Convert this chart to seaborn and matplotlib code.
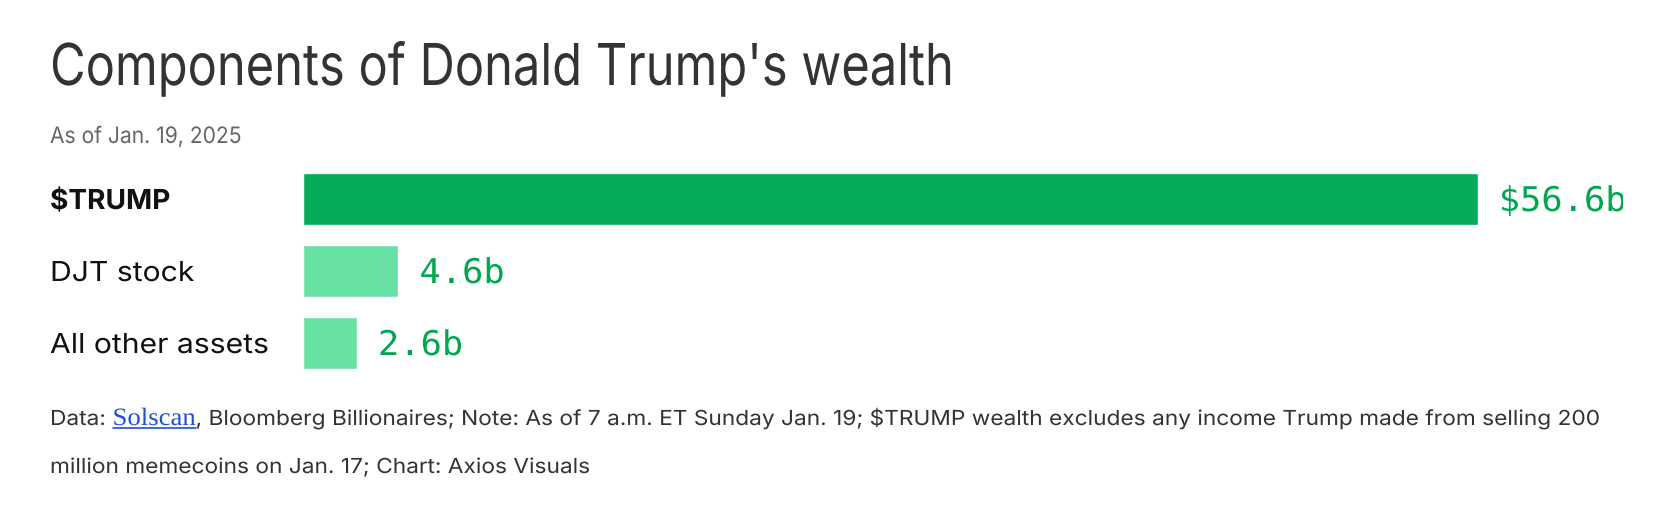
import matplotlib
matplotlib.use("Agg")
import matplotlib.pyplot as plt
import matplotlib.transforms as mtransforms
from matplotlib.lines import Line2D
from matplotlib.patheffects import AbstractPathEffect
import seaborn as sns
import pandas as pd

# ---- data ----
categories = ["$TRUMP", "DJT stock", "All other assets"]
values = [56.6, 4.6, 2.6]
value_labels = ["$56.6b", "4.6b", "2.6b"]
bar_colors = ["#03AB5A", "#68E2A4", "#68E2A4"]

title = "Components of Donald Trump's wealth"
subtitle = "As of Jan. 19, 2025"
footer_1a = "Data: "
footer_link = "Solscan"
footer_1b = (", Bloomberg Billionaires; Note: As of 7 a.m. ET Sunday Jan. 19; "
             "$TRUMP wealth excludes any income Trump made from selling 200")
footer_2 = "million memecoins on Jan. 17; Chart: Axios Visuals"


class HScale(AbstractPathEffect):
    """Scale glyph paths horizontally around the text origin."""

    def __init__(self, sx):
        super().__init__()
        self.sx = sx

    def draw_path(self, renderer, gc, tpath, affine, rgbFace=None):
        renderer.draw_path(gc, tpath,
                           mtransforms.Affine2D().scale(self.sx, 1) + affine,
                           rgbFace)


# ---- layout ----
W, H, DPI = 1660, 522, 100
sns.set_theme(style="white")
plt.rcParams['font.family'] = ['Inter', 'DejaVu Sans']

fig = plt.figure(figsize=(W / DPI, H / DPI), dpi=DPI)
fig.patch.set_facecolor("white")

ax_left, ax_right, ax_top, ax_bottom = 303, 1623, 163, 379
ax = fig.add_axes([ax_left / W, 1 - ax_bottom / H,
                   (ax_right - ax_left) / W, (ax_bottom - ax_top) / H])

df = pd.DataFrame({"category": categories, "value": values})
sns.barplot(data=df, x="value", y="category", hue="category",
            palette=bar_colors, legend=False, saturation=1,
            width=52 / 72, orient="h", ax=ax)
ax.set_xlim(0, 63.6)
ax.set_ylim(2.5, -0.5)
ax.set_xlabel("")
ax.set_ylabel("")
ax.set_xticks([])
for s in ax.spines.values():
    s.set_visible(False)
ax.set_facecolor("none")

ax.set_yticks(range(len(categories)))
ax.set_yticklabels(categories)
ax.tick_params(axis="y", length=0, pad=(ax_left - 50) * 72 / DPI)
for i, lbl in enumerate(ax.get_yticklabels()):
    lbl.set_ha("left")
    lbl.set_fontsize(19.8)
    lbl.set_color("#111111")
    if i == 0:
        lbl.set_fontweight("bold")
        lbl.set_path_effects([HScale(1.02)])
    else:
        lbl.set_path_effects([HScale(1.095)])

for i, (v, lab) in enumerate(zip(values, value_labels)):
    tr = mtransforms.offset_copy(ax.transData, fig=fig, x=21, y=-12, units="dots")
    t = ax.text(v, i, lab, transform=tr, ha="left", va="baseline",
                family="DejaVu Sans Mono", fontsize=24.5, color="#02A650",
                clip_on=True, parse_math=False)
    t.set_clip_box(ax.bbox)
    t.set_path_effects([HScale(1.04)])

# ---- titles ----
fig.text(50 / W, 1 - 85 / H, title, ha="left", va="baseline",
         fontsize=41.6, color="#333333", parse_math=False,
         path_effects=[HScale(0.845)])
fig.text(50 / W, 1 - 143 / H, subtitle, ha="left", va="baseline",
         fontsize=16.3, color="#666666", parse_math=False,
         path_effects=[HScale(0.93)])

# ---- footer ----
renderer = fig.canvas.get_renderer()


def place(x_px, y_px, s, sx=1.0, **kw):
    t = fig.text(x_px / W, 1 - y_px / H, s, ha="left", va="baseline",
                 parse_math=False, path_effects=[HScale(sx)], **kw)
    bb = t.get_window_extent(renderer)
    return bb.x0, bb.x0 + sx * bb.width


FS = 1.097
x0, x1 = place(50, 425, footer_1a, sx=FS, fontsize=14.9, color="#333333")
lx0, lx1 = place(x1, 425, footer_link, sx=1.07, fontsize=18, color="#1F4FD8",
                 family=["Liberation Serif", "DejaVu Serif"])
fig.add_artist(Line2D([lx0 / W, lx1 / W], [1 - 428 / H, 1 - 428 / H],
                      transform=fig.transFigure, color="#1F4FD8", lw=1.2))
place(lx1, 425, footer_1b, sx=FS, fontsize=14.9, color="#333333")
place(50, 473, footer_2, sx=FS, fontsize=14.9, color="#333333")

fig.savefig("out.png", dpi=DPI, facecolor="white")
